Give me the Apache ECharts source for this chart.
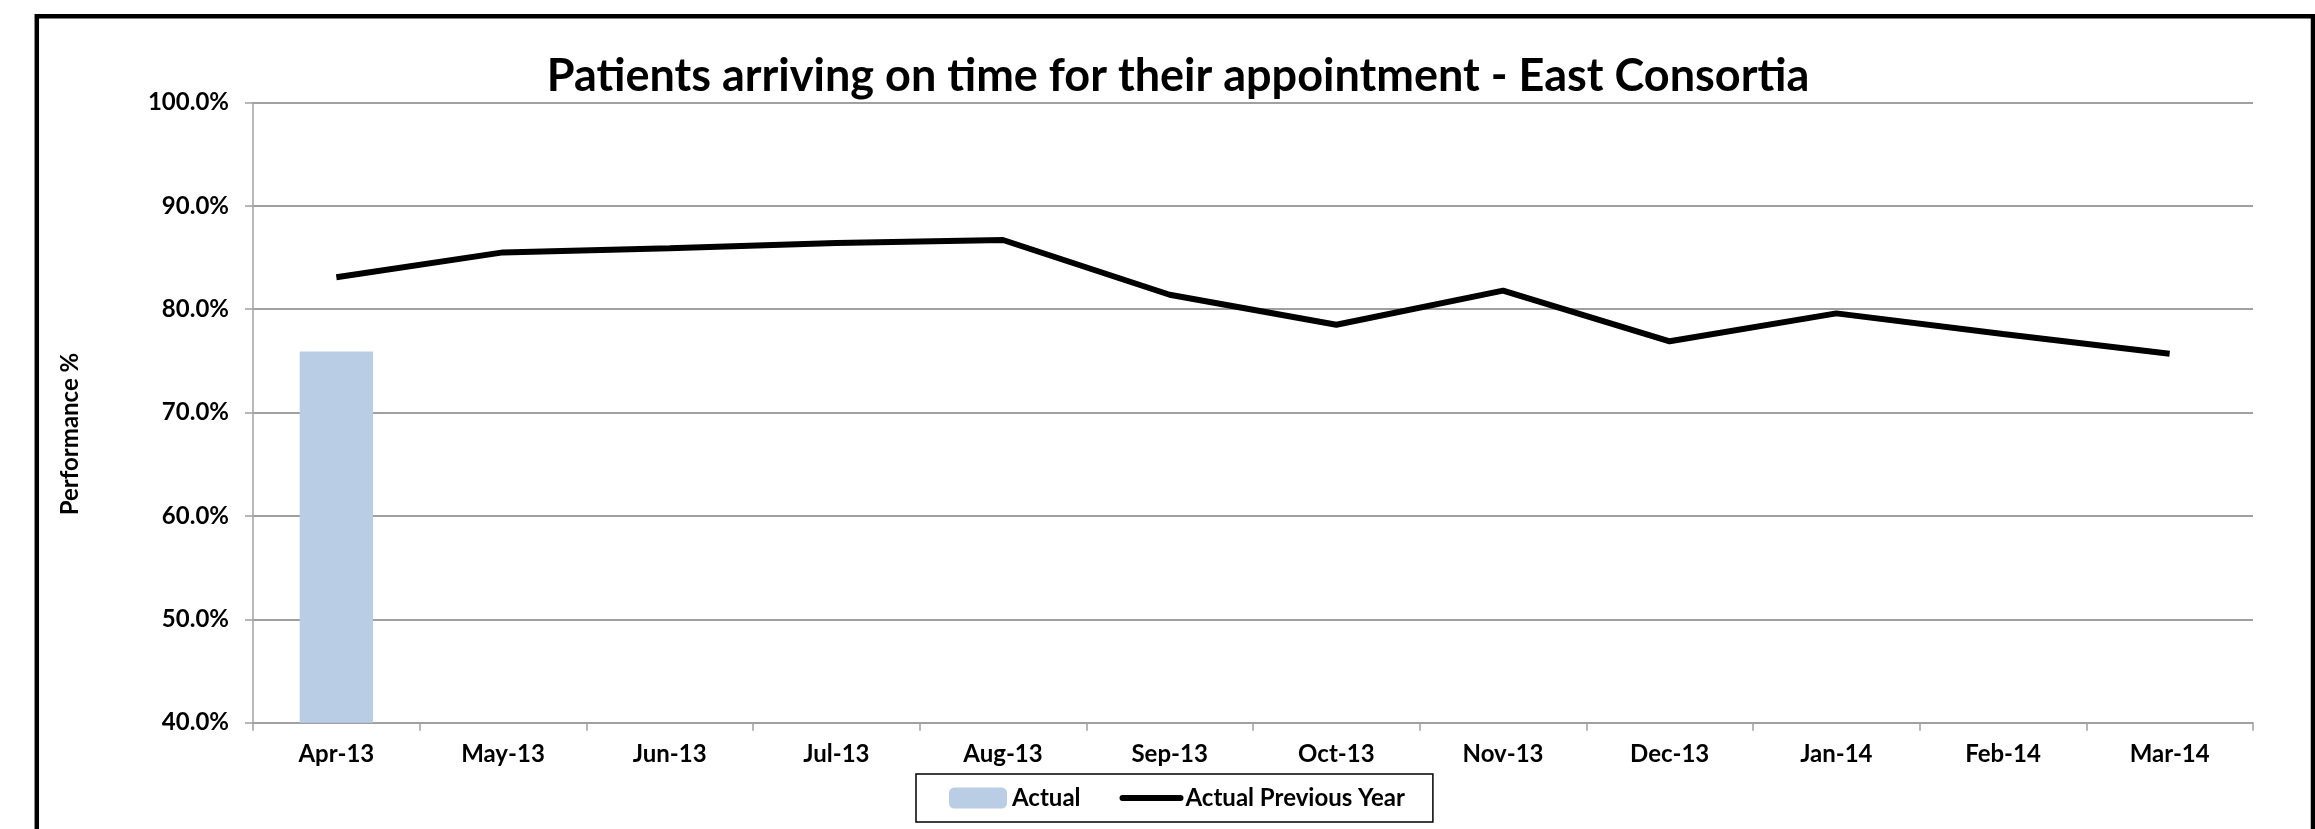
<!DOCTYPE html>
<html>
<head>
<meta charset="utf-8">
<script src="https://cdn.jsdelivr.net/npm/echarts@6/dist/echarts.min.js"></script>
<style>
html,body{margin:0;padding:0;background:#fff;}
#chart{width:2315px;height:829px;}
</style>
</head>
<body>
<div id="chart"></div>
<script>
const titleText = 'Patients arriving on time for their appointment - East Consortia';
const categories = ['Apr-13','May-13','Jun-13','Jul-13','Aug-13','Sep-13','Oct-13','Nov-13','Dec-13','Jan-14','Feb-14','Mar-14'];
const actual = [75.9, null, null, null, null, null, null, null, null, null, null, null];
const actualPreviousYear = [83.1, 85.5, 85.9, 86.4, 86.7, 81.4, 78.5, 81.8, 76.9, 79.6, 77.6, 75.7];
const yMin = 40, yMax = 100, yStep = 10;
const yAxisTitle = 'Performance %';

const FONT = 'Lato, "Open Sans", sans-serif';
const chart = echarts.init(document.getElementById('chart'), null, {renderer: 'canvas'});
chart.setOption({
  animation: false,
  backgroundColor: '#ffffff',
  title: {
    text: titleText,
    left: 1173, top: 49, textAlign: 'center',
    textStyle: {fontFamily: FONT, fontWeight: 'bold', fontSize: 45, color: '#000'}
  },
  legend: {
    left: 916, top: 774,
    padding: [12, 28, 12, 33],
    itemGap: 39, itemWidth: 58, itemHeight: 21,
    borderColor: '#000', borderWidth: 1.5,
    selectedMode: false,
    textStyle: {fontFamily: FONT, fontWeight: 'bold', fontSize: 24, color: '#000'},
    data: [
      {name: 'Actual', icon: 'roundRect'},
      {name: 'Actual Previous Year', itemStyle: {opacity: 0},
       lineStyle: {width: 6, color: '#000', cap: 'round'}}
    ]
  },
  grid: {left: 253, right: 62, top: 102.5, bottom: 106.3, containLabel: false},
  xAxis: {
    type: 'category', data: categories, boundaryGap: true,
    axisLine: {show: true, lineStyle: {color: '#a0a0a0', width: 1.5}},
    axisTick: {show: true, inside: false, length: 8, alignWithLabel: false, lineStyle: {color: '#a0a0a0', width: 1.5}},
    axisLabel: {margin: 20, fontFamily: FONT, fontWeight: 'bold', fontSize: 24, color: '#000', interval: 0},
    splitLine: {show: false}
  },
  yAxis: {
    type: 'value', min: yMin, max: yMax, interval: yStep,
    axisLine: {show: true, lineStyle: {color: '#a0a0a0', width: 1.5}},
    axisTick: {show: true, length: 8, lineStyle: {color: '#a0a0a0', width: 1.5}},
    axisLabel: {margin: 24, fontFamily: FONT, fontWeight: 'bold', fontSize: 24, color: '#000',
      formatter: v => v.toFixed(1) + '%'},
    splitLine: {show: true, lineStyle: {color: '#a0a0a0', width: 2}}
  },
  graphic: [
    {type: 'rect', shape: {x: 36.8, y: 16.3, width: 2276.2, height: 900}, silent: true,
     style: {fill: 'none', stroke: '#000', lineWidth: 4.5}, z: -1},
    {type: 'text', x: 70, y: 434, rotation: Math.PI / 2, silent: true,
     style: {text: yAxisTitle, fontFamily: FONT, fontWeight: 'bold', fontSize: 24,
       fill: '#000', align: 'center', verticalAlign: 'middle'}}
  ],
  series: [
    {name: 'Actual', type: 'bar', data: actual, barWidth: '44%',
     itemStyle: {color: '#b9cde5'}},
    {name: 'Actual Previous Year', type: 'line', data: actualPreviousYear, symbol: 'none',
     lineStyle: {color: '#000', width: 6}, itemStyle: {color: '#000'}}
  ]
});
</script>
</body>
</html>
